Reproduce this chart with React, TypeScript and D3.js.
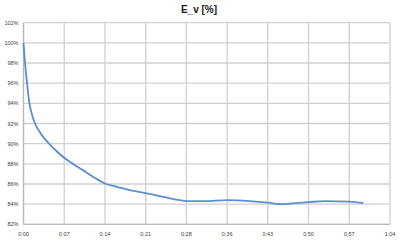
import React from "react";
import * as d3 from "d3";

const minutes = [0, 0.27, 0.62, 1.05, 1.5, 2.03, 2.7, 3.5, 4.6, 5.5, 6.45, 7.2, 10.57, 12.5, 14.4, 16.5, 18.8, 21.6, 24.1, 26.5, 28.8, 32, 36, 40, 43.2, 45.6, 48, 50.4, 53.3, 57.6, 60.1];
const values = [100, 98, 96, 94, 92.9, 92.0, 91.3, 90.65, 89.95, 89.45, 88.95, 88.6, 87.35, 86.65, 86.05, 85.72, 85.4, 85.1, 84.8, 84.5, 84.3, 84.3, 84.4, 84.3, 84.15, 84.0, 84.1, 84.2, 84.3, 84.25, 84.1];
const xTicks = [0, 7.2, 14.4, 21.6, 28.8, 36, 43.2, 50.4, 57.6, 64.8];
const yTicks = [82, 84, 86, 88, 90, 92, 94, 96, 98, 100, 102];
const title = "E_v [%]";

function fmtTime(m: number) {
  const t = Math.floor(m + 1e-6);
  const h = Math.floor(t / 60);
  const mm = t % 60;
  return `${h}:${mm < 10 ? "0" + mm : mm}`;
}

export default function App() {
  const W = 400, H = 242;
  const x = d3.scaleLinear().domain([0, 64.8]).range([23.5, 390]);
  const y = d3.scaleLinear().domain([82, 102]).range([224.3, 22.7]);
  const pts = minutes.map((m, i) => [m, values[i]] as [number, number]);
  const line = d3.line<[number, number]>().x(d => x(d[0])).y(d => y(d[1])).curve(d3.curveMonotoneX);
  const font = "'Liberation Sans', Arial, sans-serif";
  return (
    <svg width={W} height={H} style={{ position: "absolute", left: 0, top: 0, background: "#fff" }}>
      <rect x={0} y={0} width={W} height={H} fill="#fff" />
      <text x={199} y={12.5} textAnchor="middle" fontFamily={font} fontWeight="bold" fontSize={10} fill="#1a1a1a">{title}</text>
      {yTicks.map(t => (
        <line key={"gy" + t} x1={x(0)} x2={x(64.8)} y1={y(t)} y2={y(t)} stroke="#d0d0d0" strokeWidth={1.3} />
      ))}
      {xTicks.map(t => (
        <line key={"gx" + t} x1={x(t)} x2={x(t)} y1={y(82)} y2={y(102)} stroke="#d0d0d0" strokeWidth={1.3} />
      ))}
      <line x1={x(0)} x2={x(0)} y1={y(82)} y2={y(102)} stroke="#b8b8b8" strokeWidth={1.2} />
      <line x1={x(0)} x2={x(64.8)} y1={y(82)} y2={y(82)} stroke="#b8b8b8" strokeWidth={1.2} />
      {yTicks.map(t => (
        <text key={"ly" + t} x={18.5} y={y(t) + 2} textAnchor="end" fontFamily={font} fontSize={5.5} fill="#404040">{t + "%"}</text>
      ))}
      {xTicks.map(t => (
        <text key={"lx" + t} x={x(t)} y={236} textAnchor="middle" fontFamily={font} fontSize={5.5} fill="#404040">{fmtTime(t)}</text>
      ))}
      <path d={line(pts) || ""} fill="none" stroke="#5b8fd0" strokeWidth={1.8} />
    </svg>
  );
}
